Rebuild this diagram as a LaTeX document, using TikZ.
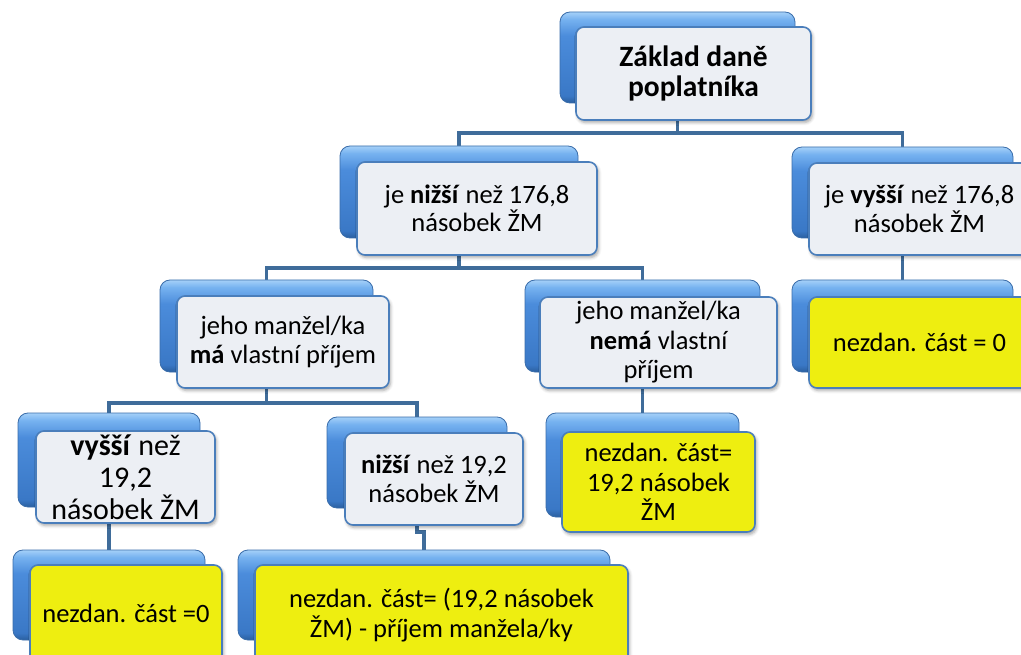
\documentclass[tikz,border=0pt]{standalone}
\usepackage{fontspec}
\setmainfont{Carlito}
\usetikzlibrary{shadows.blur}
\pgfdeclarelayer{bg}
\pgfsetlayers{bg,main}
\definecolor{conncol}{HTML}{3F6C9A}
\definecolor{bbA}{HTML}{2A5F9F}
\definecolor{bbB}{HTML}{3A78C6}
\definecolor{bbC}{HTML}{4B8CDB}
\definecolor{bbD}{HTML}{76B2F0}
\definecolor{bbE}{HTML}{A5D0F8}
\definecolor{backedge}{HTML}{3A6DAA}
\definecolor{frontedge}{HTML}{4A7EBB}
\definecolor{frontfill}{HTML}{ECEFF4}
\definecolor{yelfill}{HTML}{EEEE10}
\pgfdeclareverticalshading{bluebox}{100bp}{color(0bp)=(bbA); color(25bp)=(bbA); color(29bp)=(bbB); color(62bp)=(bbC); color(71bp)=(bbD); color(75bp)=(bbE); color(100bp)=(bbE)}
\begin{document}
\begin{tikzpicture}[x=1pt,y=-1pt,
  back/.style={draw=backedge, line width=0.8pt, rounded corners=10pt,
    shading=bluebox, inner sep=0pt},
  front/.style={draw=frontedge, line width=1.6pt, rounded corners=8pt, fill=frontfill,
    inner sep=0pt, align=center, font=\fontsize{26.5}{28.5}\selectfont,
    blur shadow={shadow xshift=1.5pt, shadow yshift=-2.5pt, shadow opacity=35, shadow blur radius=3pt}},
  yel/.style={front, fill=yelfill},
  conn/.style={draw=conncol, line width=3.5pt}]
\useasboundingbox (0,0) rectangle (1021,655);
\clip (0,0) rectangle (1021,655);

% root
\node[back, minimum width=235pt, minimum height=91pt] (bRoot) at (677.5,57.5) {};
\node[front, minimum width=235pt, minimum height=93pt, font=\fontsize{29.5}{29.5}\selectfont\bfseries] (fRoot) at (693.5,73.5) {Základ daně\\poplatníka};

% level 1
\node[back, minimum width=238pt, minimum height=92pt] (bN1) at (459,192) {};
\node[front, minimum width=240pt, minimum height=93pt] (fN1) at (477,208.5) {je \textbf{nižší} než 176,8\\násobek ŽM};

\node[back, minimum width=221pt, minimum height=91pt] (bN2) at (902.5,192.5) {};
\node[front, minimum width=221pt, minimum height=92pt] (fN2) at (919.5,209) {je \textbf{vyšší} než 176,8\\násobek ŽM};

\node[back, minimum width=221pt, minimum height=92pt] (bY1) at (902.5,326) {};
\node[yel, minimum width=221pt, minimum height=91pt] (fY1) at (919.5,342.5) {nezdan. část = 0};

% level 2
\node[back, minimum width=213pt, minimum height=92pt] (bN3) at (266.5,326) {};
\node[front, minimum width=212pt, minimum height=92pt] (fN3) at (283,342) {jeho manžel/ka\\\textbf{má} vlastní příjem};

\node[back, minimum width=235pt, minimum height=92pt] (bN4) at (642.5,326) {};
\node[front, minimum width=237pt, minimum height=91pt, font=\fontsize{26.5}{29.5}\selectfont] (fN4) at (658.5,342.5) {jeho manžel/ka\\\textbf{nemá} vlastní\\příjem};

\node[back, minimum width=193pt, minimum height=104pt] (bY2) at (642.5,465) {};
\node[yel, minimum width=193pt, minimum height=100pt, font=\fontsize{26.5}{29.5}\selectfont] (fY2) at (658.5,482) {nezdan. část=\\19,2 násobek\\ŽM};

% level 3
\node[back, minimum width=182pt, minimum height=94pt] (bN5) at (109,460) {};
\node[front, minimum width=179pt, minimum height=92pt, font=\fontsize{30}{32}\selectfont] (fN5) at (125.5,477) {\textbf{vyšší} než\\19,2\\násobek ŽM};

\node[back, minimum width=180pt, minimum height=91pt] (bN6) at (417,462.5) {};
\node[front, minimum width=178pt, minimum height=92pt] (fN6) at (434,479) {\textbf{nižší} než 19,2\\násobek ŽM};

% level 4
\node[back, minimum width=192pt, minimum height=90pt] (bY3) at (109,595) {};
\node[yel, minimum width=192pt, minimum height=100pt] (fY3) at (126,615) {\raisebox{4pt}{nezdan. část =0}};

\node[back, minimum width=372pt, minimum height=90pt] (bY4) at (424,595) {};
\node[yel, minimum width=373pt, minimum height=100pt, font=\fontsize{26.5}{30}\selectfont] (fY4) at (441.5,615) {nezdan. část= (19,2 násobek\\ŽM) - příjem manžela/ky};

% connectors
\begin{pgfonlayer}{bg}
\draw[conn] (bRoot.south) -- (bRoot.south |- 0,133) -| (bN1.north);
\draw[conn] (bRoot.south |- 0,133) -| (bN2.north);
\draw[conn] (bN2.south) -- (bY1.north);
\draw[conn] (bN1.south) -- (bN1.south |- 0,268) -| (bN3.north);
\draw[conn] (bN1.south |- 0,268) -| (bN4.north);
\draw[conn] (bN4.south) -- (bY2.north);
\draw[conn] (bN3.south) -- (bN3.south |- 0,403) -| (bN5.north);
\draw[conn] (bN3.south |- 0,403) -| (bN6.north);
\draw[conn] (bN5.south) -- (bY3.north);
\draw[conn] (bN6.south) -- (bN6.south |- 0,532) -| (bY4.north);
\end{pgfonlayer}
\end{tikzpicture}
\end{document}
